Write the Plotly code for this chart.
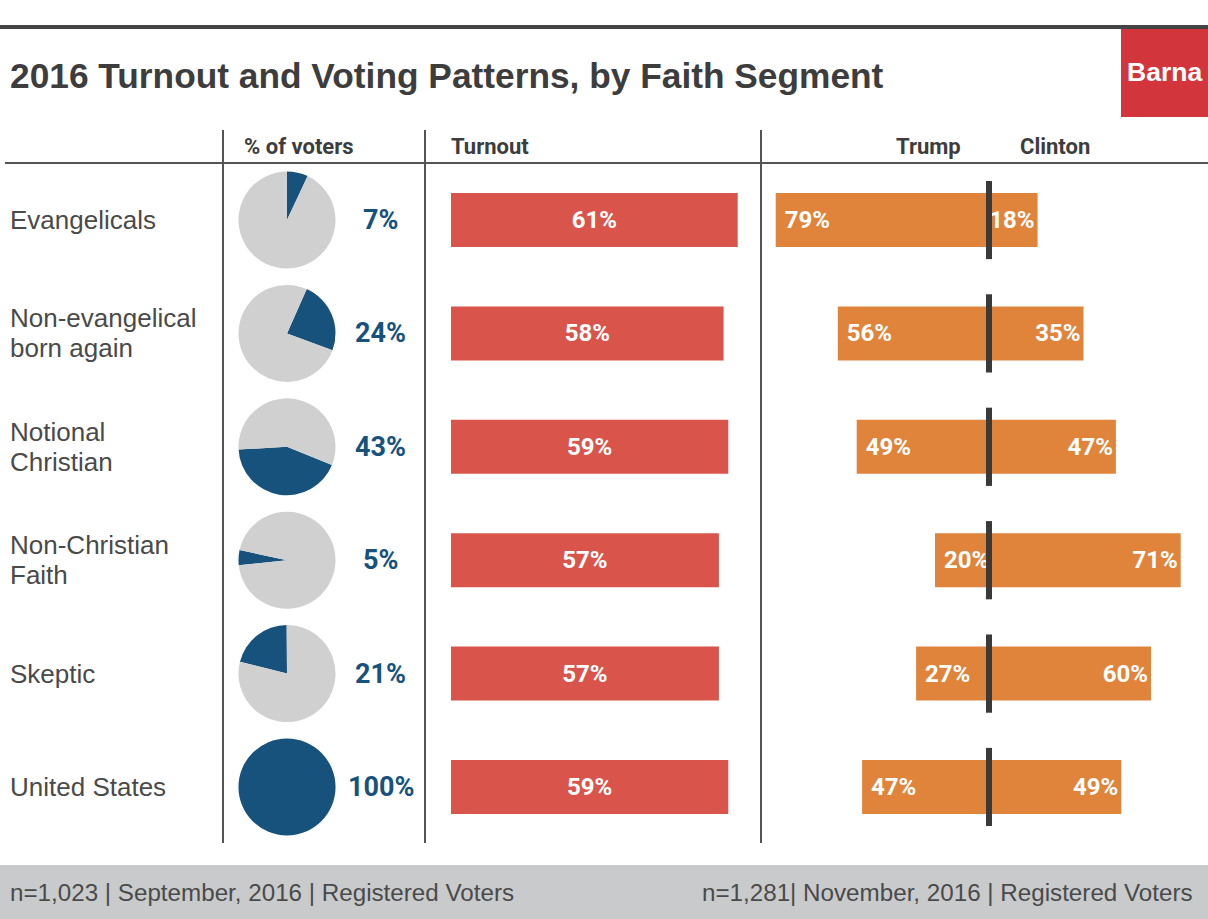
import plotly.graph_objects as go

# ---------------- data ----------------
segments = ["Evangelicals", "Non-evangelical born again", "Notional Christian",
            "Non-Christian Faith", "Skeptic", "United States"]
segment_lines = [["Evangelicals"], ["Non-evangelical", "born again"], ["Notional", "Christian"],
                 ["Non-Christian", "Faith"], ["Skeptic"], ["United States"]]
share_of_voters = [7, 24, 43, 5, 21, 100]
turnout = [61, 58, 59, 57, 57, 59]
trump = [79, 56, 49, 20, 27, 47]
clinton = [18, 35, 47, 71, 60, 49]
pie_start_angle = [0, 24, 112, 264, 284, 0]

title = "2016 Turnout and Voting Patterns, by Faith Segment"
headers = ["% of voters", "Turnout", "Trump", "Clinton"]
footer_left = "n=1,023 | September, 2016 | Registered Voters"
footer_right = "n=1,281| November, 2016 | Registered Voters"

# ---------------- style ----------------
W, H = 1208, 919
BLUE = "#17527d"
GRAY_PIE = "#d0d0d0"
RED = "#d9544b"
ORANGE = "#e0843c"
DARK = "#3d3d3d"
LINE = "#555555"
COND = "Roboto, Liberation Sans, sans-serif"
SANS = "Liberation Sans, Arial, Helvetica, sans-serif"


def px(x):
    return x / W


def py(y):
    return 1 - y / H


row0, row_step = 220, 113.4
row_centers = [row0 + i * row_step for i in range(len(segments))]
ytop = row0 - row_step / 2
ybot = row_centers[-1] + row_step / 2
ydomain = [py(ybot), py(ytop)]
yidx = list(range(len(segments)))
bar_w = 0.476

fig = go.Figure()

# pies
pie_cx, pie_r = 287, 48.5
for i, v in enumerate(share_of_voters):
    cy = row_centers[i]
    fig.add_trace(go.Pie(
        values=[v, 100 - v], labels=["share", "rest"],
        marker=dict(colors=[BLUE, GRAY_PIE], line=dict(width=0)),
        sort=False, direction="clockwise", rotation=pie_start_angle[i],
        textinfo="none", hoverinfo="skip", showlegend=False,
        domain=dict(x=[px(pie_cx - pie_r), px(pie_cx + pie_r)],
                    y=[py(cy + pie_r), py(cy - pie_r)]),
    ))

bar_font = dict(family=COND, size=24, color="white", weight="bold")

# turnout bars
fig.add_trace(go.Bar(
    x=turnout, y=yidx, orientation="h", width=bar_w, marker=dict(color=RED, line=dict(width=0)),
    text=[f"{v}%" for v in turnout], textposition="inside", insidetextanchor="middle", textangle=0,
    textfont=bar_font, constraintext="none",
    xaxis="x", yaxis="y", showlegend=False, hoverinfo="skip",
))

# Trump / Clinton diverging bars
fig.add_trace(go.Bar(
    x=[-v for v in trump], y=yidx, orientation="h", width=bar_w, base=0,
    marker=dict(color=ORANGE, line=dict(width=0)),
    text=[f"\u00a0{v}%" for v in trump], textposition="inside", insidetextanchor="end", textangle=0,
    textfont=bar_font, constraintext="none",
    xaxis="x2", yaxis="y2", showlegend=False, hoverinfo="skip",
))
fig.add_trace(go.Bar(
    x=clinton, y=yidx, orientation="h", width=bar_w, base=0,
    marker=dict(color=ORANGE, line=dict(width=0)),
    text=[f"{v}%" for v in clinton], textposition="inside", insidetextanchor="end", textangle=0,
    textfont=bar_font, constraintext="none",
    xaxis="x2", yaxis="y2", showlegend=False, hoverinfo="skip",
))

shapes = []
# center lines on the vote axis
for i in yidx:
    shapes.append(dict(type="line", xref="x2", yref="y2", x0=0, x1=0,
                       y0=i - 0.345, y1=i + 0.345, line=dict(color="#3a3a3a", width=6), layer="above"))
# frame lines
shapes.append(dict(type="line", xref="paper", yref="paper", x0=0, x1=1, y0=py(27), y1=py(27),
                   line=dict(color="#444444", width=4)))
shapes.append(dict(type="rect", xref="paper", yref="paper", x0=px(1121), x1=1, y0=py(117), y1=py(29),
                   fillcolor="#d2363c", line=dict(width=0)))
shapes.append(dict(type="line", xref="paper", yref="paper", x0=px(5), x1=1, y0=py(163), y1=py(163),
                   line=dict(color=LINE, width=2)))
for xv in [223, 425, 761]:
    shapes.append(dict(type="line", xref="paper", yref="paper", x0=px(xv), x1=px(xv),
                       y0=py(843), y1=py(130), line=dict(color=LINE, width=2)))
shapes.append(dict(type="rect", xref="paper", yref="paper", x0=0, x1=1, y0=0, y1=py(865),
                   fillcolor="#c9cacc", line=dict(width=0), layer="below"))

ann = []
ann.append(dict(text=title, x=px(8), y=py(75), xref="paper", yref="paper", xanchor="left", yanchor="middle",
                showarrow=False, font=dict(family=SANS, size=35.3, color=DARK, weight="bold")))
ann.append(dict(text="Barna", x=px(1164), y=py(72), xref="paper", yref="paper", xanchor="center",
                yanchor="middle", showarrow=False, font=dict(family=SANS, size=26.5, color="white", weight="bold")))
hdr_pos = [(299, "center"), (449, "left"), (928, "center"), (1055, "center")]
for t, (hx, anc) in zip(headers, hdr_pos):
    ann.append(dict(text=t, x=px(hx), y=py(146), xref="paper", yref="paper", xanchor=anc, yanchor="middle",
                    showarrow=False, font=dict(family=COND, size=22, color=DARK, weight="bold")))
# row labels
for i, lines in enumerate(segment_lines):
    n = len(lines)
    for k, ln in enumerate(lines):
        shift = (-(k - (n - 1) / 2)) * 30
        ann.append(dict(text=ln, x=px(8), y=i, xref="paper", yref="y", xanchor="left", yanchor="middle",
                        yshift=shift, showarrow=False, font=dict(family=SANS, size=26, color="#4a4a4a")))
# pie percentages
for i, v in enumerate(share_of_voters):
    ann.append(dict(text=f"{v}%", x=px(381), y=i, xref="paper", yref="y", xanchor="center", yanchor="middle",
                    showarrow=False, font=dict(family=COND, size=27, color=BLUE, weight="bold")))
# footer
ann.append(dict(text=footer_left, x=px(8), y=py(892), xref="paper", yref="paper", xanchor="left",
                yanchor="middle", showarrow=False, font=dict(family=SANS, size=24.2, color="#4a4a4a")))
ann.append(dict(text=footer_right, x=px(1195), y=py(892), xref="paper", yref="paper", xanchor="right",
                yanchor="middle", showarrow=False, font=dict(family=SANS, size=24.2, color="#4a4a4a")))

axis_off = dict(visible=False, showgrid=False, zeroline=False, fixedrange=True)
vote_half = (W - 989) / 2.7
fig.update_layout(
    width=W, height=H, margin=dict(l=0, r=0, t=0, b=0),
    paper_bgcolor="white", plot_bgcolor="rgba(0,0,0,0)",
    barmode="overlay", showlegend=False,
    xaxis=dict(domain=[px(451), px(921)], range=[0, 100], anchor="y", **axis_off),
    yaxis=dict(domain=ydomain, range=[len(segments) - 0.5, -0.5], anchor="x", **axis_off),
    xaxis2=dict(domain=[px(989 - (W - 989)), 1], range=[-vote_half, vote_half], anchor="y2", **axis_off),
    yaxis2=dict(domain=ydomain, range=[len(segments) - 0.5, -0.5], anchor="x2", **axis_off),
    shapes=shapes, annotations=ann,
)

fig.write_html("out.html", config={"displayModeBar": False, "staticPlot": True},
               post_script="document.body.style.margin='0';document.body.style.overflow='hidden';")
